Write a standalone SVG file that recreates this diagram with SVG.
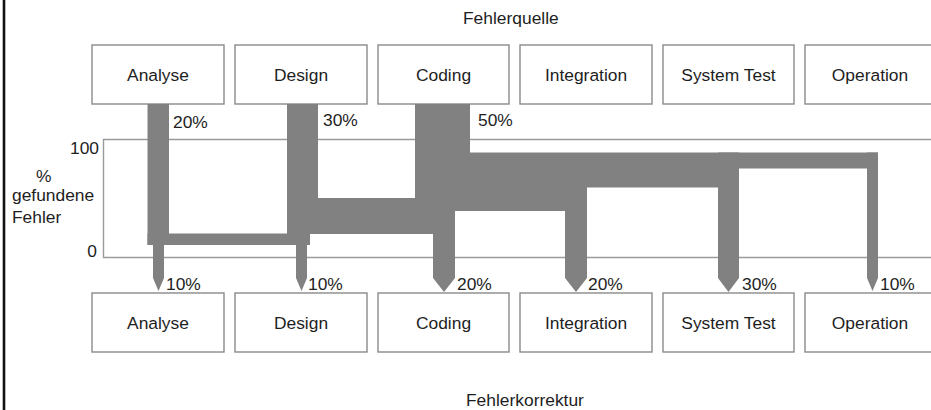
<svg xmlns="http://www.w3.org/2000/svg" width="931" height="410" viewBox="0 0 931 410">
  <style>
    text { font-family: "Liberation Sans", Arial, sans-serif; font-size: 17.4px; fill: #1e1e1e; }
    .box { fill: #ffffff; stroke: #8a8a8a; stroke-width: 1.4; }
    .lbl { text-anchor: middle; }
    .axis { fill: none; stroke: #9a9a9a; stroke-width: 1.4; }
    .flow { fill: #818181; stroke: none; }
  </style>

  <rect x="0" y="0" width="931" height="410" fill="#ffffff"/>
  <!-- left page rule -->
  <line x1="4" y1="0" x2="4" y2="410" stroke="#111111" stroke-width="2.6"/>

  <!-- headings -->
  <text x="463" y="24">Fehlerquelle</text>
  <text x="466" y="406">Fehlerkorrektur</text>

  <!-- chart frame and axis labels -->
  <g id="chart">
    <polyline class="axis" points="931,139.5 103.5,139.5 103.5,257.5 931,257.5"/>
    <text x="99" y="154" text-anchor="end">100</text>
    <text x="97" y="257" text-anchor="end">0</text>
    <text x="36" y="182">%</text>
    <text x="12" y="201">gefundene</text>
    <text x="12" y="223">Fehler</text>
  </g>

  <!-- phases where errors are introduced -->
  <g id="src-analyse"><rect class="box" x="92" y="45" width="132" height="59"/><text class="lbl" x="158" y="81">Analyse</text></g>
  <g id="src-design"><rect class="box" x="235" y="45" width="132" height="59"/><text class="lbl" x="301" y="81">Design</text></g>
  <g id="src-coding"><rect class="box" x="378" y="45" width="131" height="59"/><text class="lbl" x="443.5" y="81">Coding</text></g>
  <g id="src-integration"><rect class="box" x="520" y="45" width="132" height="59"/><text class="lbl" x="586" y="81">Integration</text></g>
  <g id="src-systemtest"><rect class="box" x="663" y="45" width="131" height="59"/><text class="lbl" x="728.5" y="81">System Test</text></g>
  <g id="src-operation"><rect class="box" x="805" y="45" width="132" height="59"/><text class="lbl" x="870" y="81">Operation</text></g>

  <!-- phases where errors are corrected -->
  <g id="fix-analyse"><rect class="box" x="92" y="293" width="132" height="59"/><text class="lbl" x="158" y="329">Analyse</text></g>
  <g id="fix-design"><rect class="box" x="235" y="293" width="132" height="59"/><text class="lbl" x="301" y="329">Design</text></g>
  <g id="fix-coding"><rect class="box" x="378" y="293" width="131" height="59"/><text class="lbl" x="443.5" y="329">Coding</text></g>
  <g id="fix-integration"><rect class="box" x="520" y="293" width="132" height="59"/><text class="lbl" x="586" y="329">Integration</text></g>
  <g id="fix-systemtest"><rect class="box" x="663" y="293" width="131" height="59"/><text class="lbl" x="728.5" y="329">System Test</text></g>
  <g id="fix-operation"><rect class="box" x="805" y="293" width="132" height="59"/><text class="lbl" x="870" y="329">Operation</text></g>

  <!-- error flow: inflows, carried bands and correction outflows -->
  <g id="connectors">
    <g class="flow">
      <rect x="147.5" y="104" width="21.5" height="141"/>
      <rect x="287" y="104" width="31" height="130"/>
      <rect x="415" y="104" width="55" height="107"/>
      <rect x="147.5" y="233.5" width="162.5" height="11.5"/>
      <rect x="287" y="198" width="146" height="36"/>
      <rect x="415" y="187" width="172" height="24"/>
      <rect x="415" y="168" width="324" height="19.5"/>
      <rect x="415" y="152.5" width="463" height="16"/>
      <polygon points="153,244 164,244 164,278 158.5,291 153,278"/>
      <polygon points="296,233 307,233 307,278 301.5,291 296,278"/>
      <polygon points="433,210 455,210 455,278 444,292 433,278"/>
      <polygon points="565,186 587,186 587,278 576,292 565,278"/>
      <polygon points="718,152.5 739,152.5 739,278 728.5,292 718,278"/>
      <polygon points="867,152.5 878,152.5 878,278 872.5,291 867,278"/>
    </g>
    <text x="173" y="128">20%</text>
    <text x="323" y="126">30%</text>
    <text x="478" y="126">50%</text>
    <text x="166" y="290">10%</text>
    <text x="308" y="290">10%</text>
    <text x="457" y="290">20%</text>
    <text x="588" y="290">20%</text>
    <text x="742" y="290">30%</text>
    <text x="880" y="290">10%</text>
  </g>
</svg>
